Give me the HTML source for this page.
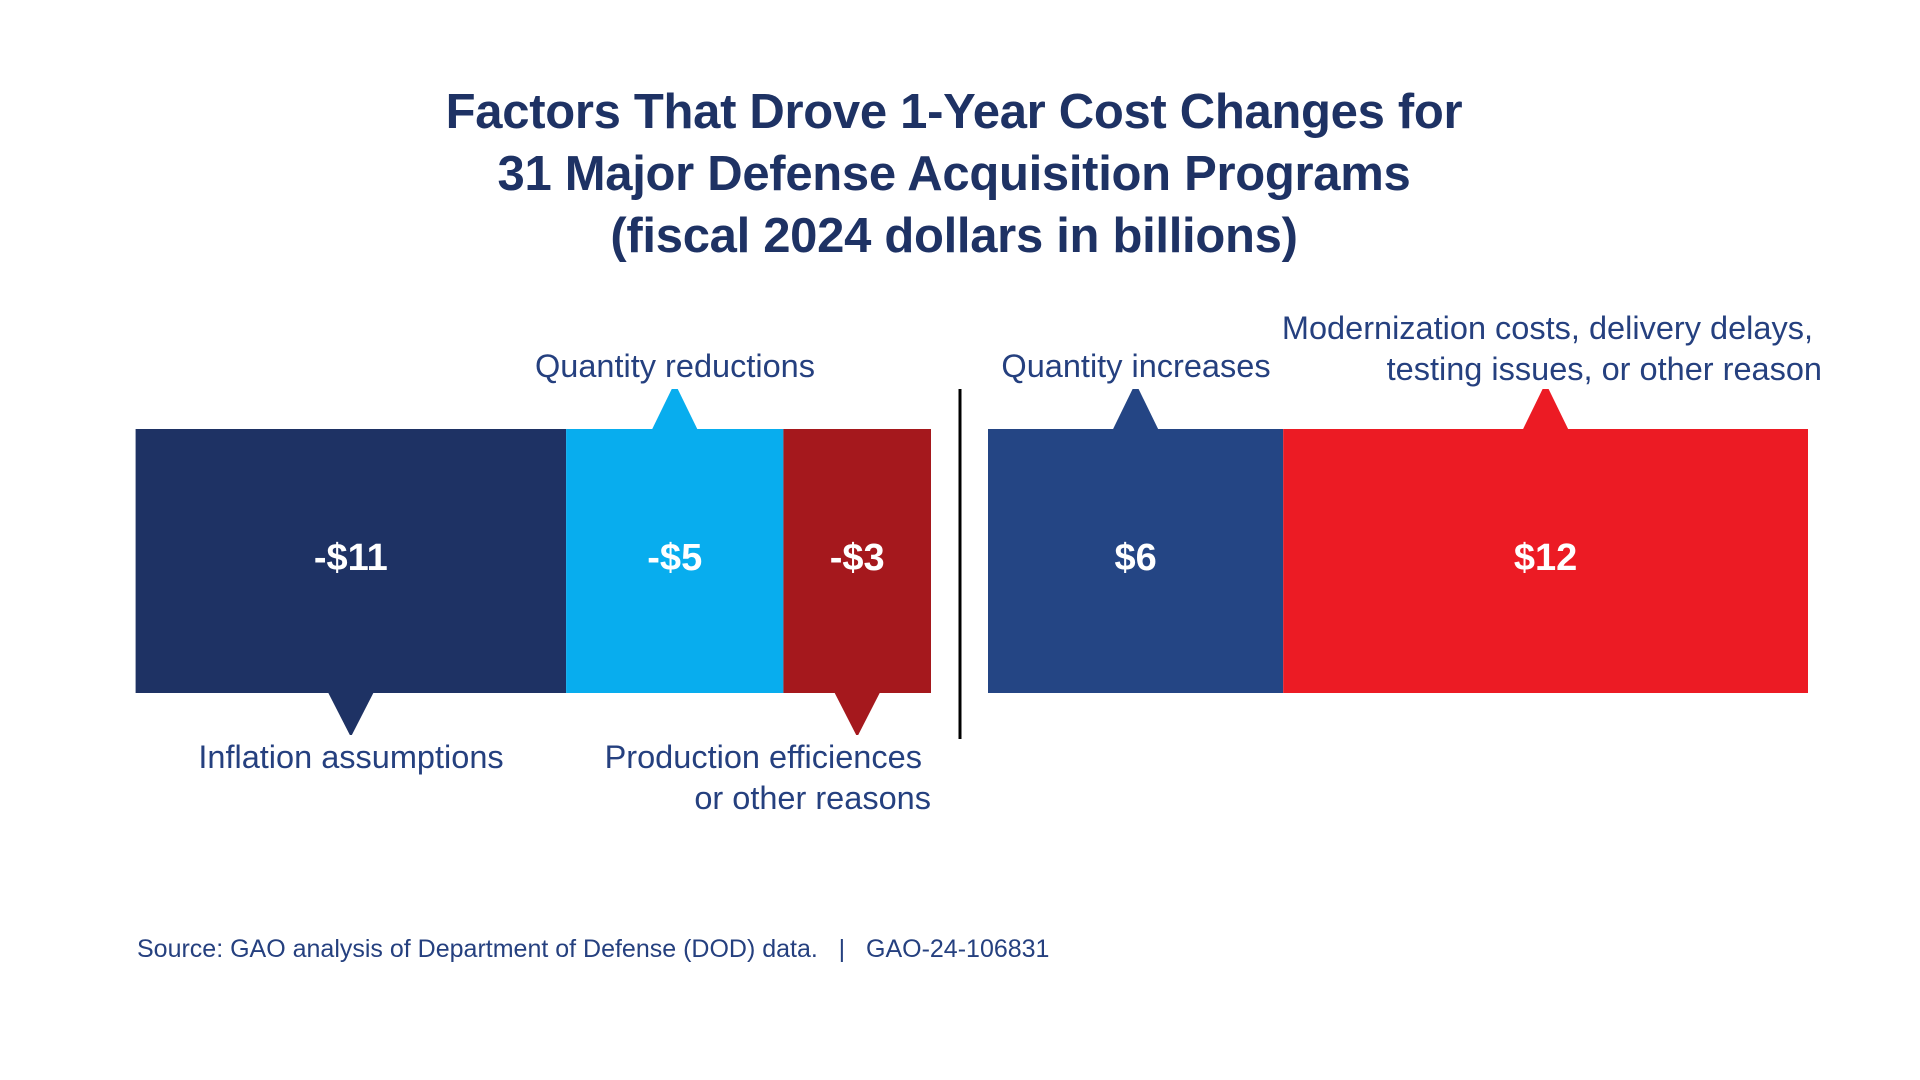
<!DOCTYPE html>
<html><head><meta charset="utf-8">
<style>
html,body{margin:0;padding:0;background:#fff;}
body{width:1920px;height:1080px;position:relative;overflow:hidden;font-family:"Liberation Sans",sans-serif;}
.title{position:absolute;left:0;width:1908px;top:81px;text-align:center;color:#1e3264;font-weight:bold;font-size:49px;line-height:62px;letter-spacing:-0.3px;}
.ann{position:absolute;color:#25407f;font-family:"Liberation Sans Narrow","Liberation Sans",sans-serif;font-size:32.5px;line-height:41px;white-space:nowrap;}
.src{position:absolute;left:137px;top:935px;color:#25407f;font-family:"Liberation Sans Narrow","Liberation Sans",sans-serif;font-size:25px;}
</style></head>
<body>
<div class="title">Factors That Drove 1-Year Cost Changes for<br>31 Major Defense Acquisition Programs<br>(fiscal 2024 dollars in billions)</div>
<svg id="chart" width="1920" height="1080" style="position:absolute;left:0;top:0"></svg>
<div class="ann" style="left:675px;top:346px;transform:translateX(-50%)">Quantity reductions</div>
<div class="ann" style="left:351px;top:737px;transform:translateX(-50%)">Inflation assumptions</div>
<div class="ann" style="right:989px;top:737px;text-align:right">Production efficiences&nbsp;<br>or other reasons</div>
<div class="ann" style="left:1136px;top:346px;transform:translateX(-50%)">Quantity increases</div>
<div class="ann" style="right:98px;top:308px;text-align:right">Modernization costs, delivery delays,&nbsp;<br>testing issues, or other reason</div>
<div class="src">Source: GAO analysis of Department of Defense (DOD) data.&nbsp;&nbsp;&nbsp;|&nbsp;&nbsp;&nbsp;GAO-24-106831</div>
<script>
const negCategories = ["Inflation assumptions","Quantity reductions","Production efficiencies"];
const negValues = [10.5, 5.3, 3.6];
const negLabels = ["-$11","-$5","-$3"];
const negColors = ["#1e3264","#08adee","#a5181d"];
const negPointers = ["down","up","down"];
const posCategories = ["Quantity increases","Modernization costs"];
const posValues = [7.2, 12.8];
const posLabels = ["$6","$12"];
const posColors = ["#244584","#ec1b24"];
const posPointers = ["up","up"];

const NS = "http://www.w3.org/2000/svg";
const svg = document.getElementById("chart");
const pxPerUnit = 41;
const barTop = 429, barBottom = 693;
const negEnd = 931, posStart = 988;
function xScale(v){ return v * pxPerUnit; }

function drawBar(x, w, color, label, pointer, name){
  const r = document.createElementNS(NS,"rect");
  r.setAttribute("x", x); r.setAttribute("y", barTop);
  r.setAttribute("width", w); r.setAttribute("height", barBottom-barTop);
  r.setAttribute("fill", color);
  
  
  svg.appendChild(r);
  const cx = x + w/2;
  const p = document.createElementNS(NS,"polygon");
  let pts;
  if (pointer === "up") pts = `${cx-23},${barTop+1} ${cx-3},${barTop-40} ${cx+3},${barTop-40} ${cx+23},${barTop+1}`;
  else pts = `${cx-23},${barBottom-1} ${cx-1},${barBottom+42} ${cx+1},${barBottom+42} ${cx+23},${barBottom-1}`;
  p.setAttribute("points", pts); p.setAttribute("fill", color);
  
  
  svg.appendChild(p);
  const t = document.createElementNS(NS,"text");
  t.setAttribute("x", cx); t.setAttribute("y", (barTop+barBottom)/2 + 9);
  t.setAttribute("text-anchor","middle"); t.setAttribute("fill","#fff");
  t.setAttribute("font-family","Liberation Sans Narrow, Liberation Sans, sans-serif");
  t.setAttribute("font-weight","bold"); t.setAttribute("font-size","38");
  t.textContent = label;
  
  
  svg.appendChild(t);
}

let total = negValues.reduce((a,b)=>a+b,0);
let x = negEnd - xScale(total);
negValues.forEach((v,i)=>{
  const w = xScale(v);
  drawBar(x, w, negColors[i], negLabels[i], negPointers[i], 'bar-neg-' + (i+1));
  x += w;
});
x = posStart;
posValues.forEach((v,i)=>{
  const w = xScale(v);
  drawBar(x, w, posColors[i], posLabels[i], posPointers[i], 'bar-pos-' + (i+1));
  x += w;
});
const line = document.createElementNS(NS,"line");
line.setAttribute("x1",960); line.setAttribute("x2",960);
line.setAttribute("y1",389); line.setAttribute("y2",739);
line.setAttribute("stroke","#000"); line.setAttribute("stroke-width","3");


svg.appendChild(line);
</script>
</body></html>
